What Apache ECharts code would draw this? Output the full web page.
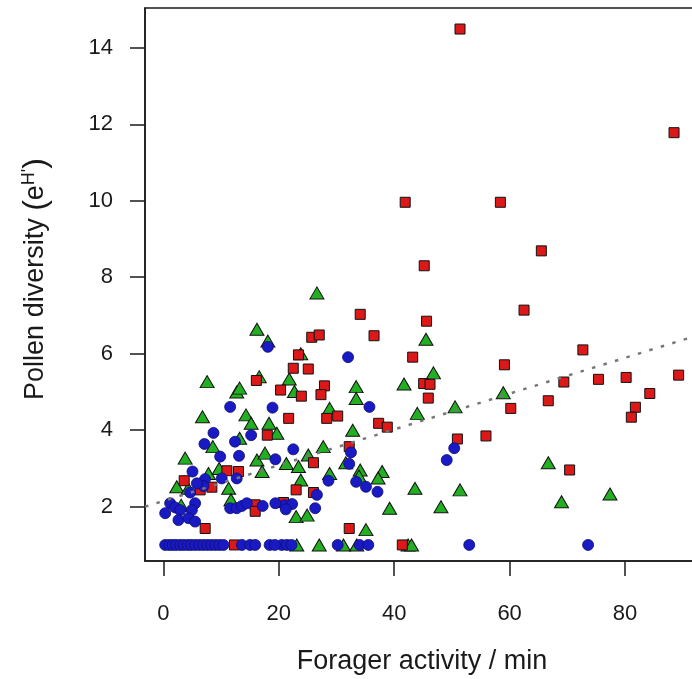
<!DOCTYPE html>
<html>
<head>
<meta charset="utf-8">
<script src="https://cdn.jsdelivr.net/npm/echarts@6/dist/echarts.min.js"></script>
<style>
html,body{margin:0;padding:0;background:#fff;overflow:hidden;width:692px;height:679px;}
#chart{width:700px;height:679px;}
</style>
</head>
<body>
<div id="chart"></div>
<script>
// Tick labels
var xTicks = [0, 20, 40, 60, 80];
var yTicks = [2, 4, 6, 8, 10, 12, 14];

// Red squares [forager activity, pollen diversity]
var squares = [
  [51.4,14.49],[88.5,11.78],[41.9,9.96],[58.4,9.96],[65.5,8.69],[45.2,8.30],
  [62.5,7.14],[45.6,6.85],[43.2,5.91],[45.1,5.22],[46.2,5.20],[45.9,4.84],[59.1,5.71],[60.2,4.57],
  [66.7,4.77],[69.4,5.26],[72.7,6.10],[75.4,5.33],[80.2,5.38],[84.3,4.96],[81.8,4.60],[81.1,4.34],
  [89.3,5.44],[50.95,3.77],[55.9,3.85],[70.4,2.96],[41.4,1.0],
  [16.1,5.30],[20.3,5.05],[34.1,7.03],[25.7,6.43],[27.0,6.49],[36.5,6.47],[23.4,5.97],[22.5,5.62],
  [25.1,5.60],[23.9,4.89],[27.9,5.16],[27.3,4.93],[28.3,4.31],[30.2,4.37],[21.7,4.31],[37.3,4.18],
  [38.8,4.08],[26.0,3.15],[32.2,3.57],[23.0,2.44],[26.0,2.37],[20.8,2.11],[32.2,1.43],
  [18.0,3.87],[3.59,2.68],[11.0,2.94],[13.0,2.92],[6.36,2.44],[8.39,2.51],[15.9,2.05],[15.9,1.88],
  [7.23,1.43],[12.3,1.0]
];

// Green triangles
var triangles = [
  [45.5,6.38],[46.8,5.50],[41.7,5.21],[44.0,4.44],[50.55,4.61],[58.9,4.98],[66.7,3.15],[43.6,2.48],
  [51.4,2.44],[48.1,2.0],[69.0,2.13],[77.4,2.33],[42.4,1.0],[43.0,1.0],
  [16.2,6.64],[18.1,6.33],[7.57,5.27],[12.7,5.0],[13.2,5.1],[16.6,5.4],[6.76,4.35],[14.3,4.40],
  [26.6,7.59],[23.8,6.0],[21.8,5.34],[22.7,5.01],[33.4,5.14],[33.4,4.83],[28.8,4.57],
  [32.8,4.0],[27.7,3.57],[25.1,3.35],[21.3,3.13],[23.4,3.05],[31.6,3.15],[34.1,2.96],[37.9,2.92],
  [28.8,2.87],[23.8,2.70],[33.9,2.8],[37.2,2.75],[23.0,1.74],[24.9,1.78],[39.2,1.96],[35.1,1.40],
  [23.1,1.0],[27.0,1.0],[31.2,1.0],[33.5,1.0],
  [15.2,4.18],[18.3,4.18],[8.56,3.57],[13.2,3.79],[19.65,3.92],[3.76,3.27],[16.2,3.22],[17.6,3.40],
  [17.1,2.92],[7.8,2.87],[9.65,3.0],[2.3,2.52],[4.3,2.48],[11.3,2.48],[11.7,2.18],[3.07,2.04]
];

// Blue circles
var circles = [
  [50.4,3.53],[49.1,3.22],[53.0,1.0],[73.6,1.0],
  [18.1,6.18],[11.56,4.61],[18.9,4.59],[32.0,5.91],[35.7,4.61],
  [22.5,3.50],[32.5,3.42],[32.2,3.12],[28.6,2.68],[33.4,2.65],[35.1,2.52],[37.1,2.39],[26.6,2.31],
  [21.0,2.04],[22.3,2.07],[21.2,1.93],[26.3,1.96],
  [20.5,1.0],[21.4,1.0],[22.2,1.0],[30.2,1.0],[34.0,1.0],[35.5,1.0],
  [8.67,3.93],[15.2,3.87],[7.1,3.64],[12.4,3.70],[9.83,3.31],[13.1,3.33],[19.4,3.24],[5.03,2.92],
  [10.1,2.74],[12.7,2.74],[7.2,2.72],[4.63,2.37],[6.93,2.54],[5.79,2.61],
  [1.16,2.09],[2.03,1.98],[2.89,1.91],[5.49,2.09],[4.92,1.91],[11.56,1.96],[12.7,1.96],[13.6,2.02],
  [14.45,2.09],[17.2,2.02],[19.4,2.09],
  [0.3,1.83],[2.6,1.65],[4.33,1.70],[5.49,1.61],
  [0.3,1.0],[1.0,1.0],[1.6,1.0],[2.2,1.0],[2.9,1.0],[3.5,1.0],[4.2,1.0],[4.8,1.0],[5.5,1.0],
  [6.2,1.0],[6.9,1.0],[7.6,1.0],[8.3,1.0],[9.0,1.0],[9.7,1.0],[10.4,1.0],[13.6,1.0],[15.0,1.0],
  [15.9,1.0],[18.4,1.0],[19.3,1.0]
];

// Fitted trend line endpoints
var trend = [[-3.2, 2.0], [93.0, 6.5]];

var FONT = 'Liberation Sans, Arial, sans-serif';
var chart = echarts.init(document.getElementById('chart'), null, {renderer: 'canvas'});
chart.setOption({
  animation: false,
  backgroundColor: '#ffffff',
  grid: {left: 145, top: 8, right: 0, bottom: 118, show: true, borderColor: '#1a1a1a', borderWidth: 1.5, backgroundColor: 'transparent'},
  xAxis: {
    type: 'value', min: -3.2, max: 93.0,
    splitLine: {show: false},
    axisLine: {show: true, onZero: false, lineStyle: {color: '#1a1a1a', width: 1.5}},
    axisTick: {show: true, inside: false, length: 15, customValues: xTicks, lineStyle: {color: '#1a1a1a', width: 1.5}},
    axisLabel: {show: true, customValues: xTicks, margin: 42, fontSize: 22, fontFamily: FONT, color: '#1a1a1a'}
  },
  yAxis: {
    type: 'value', min: 0.58, max: 15.04,
    splitLine: {show: false},
    axisLine: {show: true, onZero: false, lineStyle: {color: '#1a1a1a', width: 1.5}},
    axisTick: {show: true, inside: false, length: 15, customValues: yTicks, lineStyle: {color: '#1a1a1a', width: 1.5}},
    axisLabel: {show: true, customValues: yTicks, margin: 32, fontSize: 22, fontFamily: FONT, color: '#1a1a1a'}
  },
  graphic: [
    {type: 'text', x: 422, y: 662, style: {text: 'Forager activity / min', font: '27px ' + FONT, fill: '#1a1a1a', align: 'center', verticalAlign: 'middle'}},
    {type: 'text', x: 36, y: 279, rotation: Math.PI / 2,
      style: {text: 'Pollen diversity {p|(}e{sup|H\'}{p|)}', font: '27px ' + FONT, fill: '#1a1a1a', align: 'center', verticalAlign: 'middle',
        rich: {p: {fontSize: 32, fontFamily: FONT, fill: '#1a1a1a', color: '#1a1a1a'}, sup: {fontSize: 18, fontFamily: FONT, verticalAlign: 'top', color: '#1a1a1a', fill: '#1a1a1a'}}}}
  ],
  series: [
    {type: 'scatter', name: 'triangles', data: triangles, symbol: 'triangle', symbolSize: [14, 12], z: 2,
      itemStyle: {color: '#22b022', borderColor: '#111', borderWidth: 1, opacity: 1}},
    {type: 'scatter', name: 'squares', data: squares, symbol: 'rect', symbolSize: 10, z: 3,
      itemStyle: {color: '#dd1818', borderColor: '#111', borderWidth: 1, opacity: 1}},
    {type: 'scatter', name: 'circles', data: circles, symbol: 'circle', symbolSize: 11, z: 4,
      itemStyle: {color: '#1a1ac4', borderColor: '#0c0c70', borderWidth: 0.8, opacity: 1}},
    {type: 'line', name: 'trend', data: trend, symbol: 'none', z: 5, silent: true,
      lineStyle: {color: '#777777', width: 2.5, type: [3.5, 8.5]}}
  ]
});
</script>
</body>
</html>
